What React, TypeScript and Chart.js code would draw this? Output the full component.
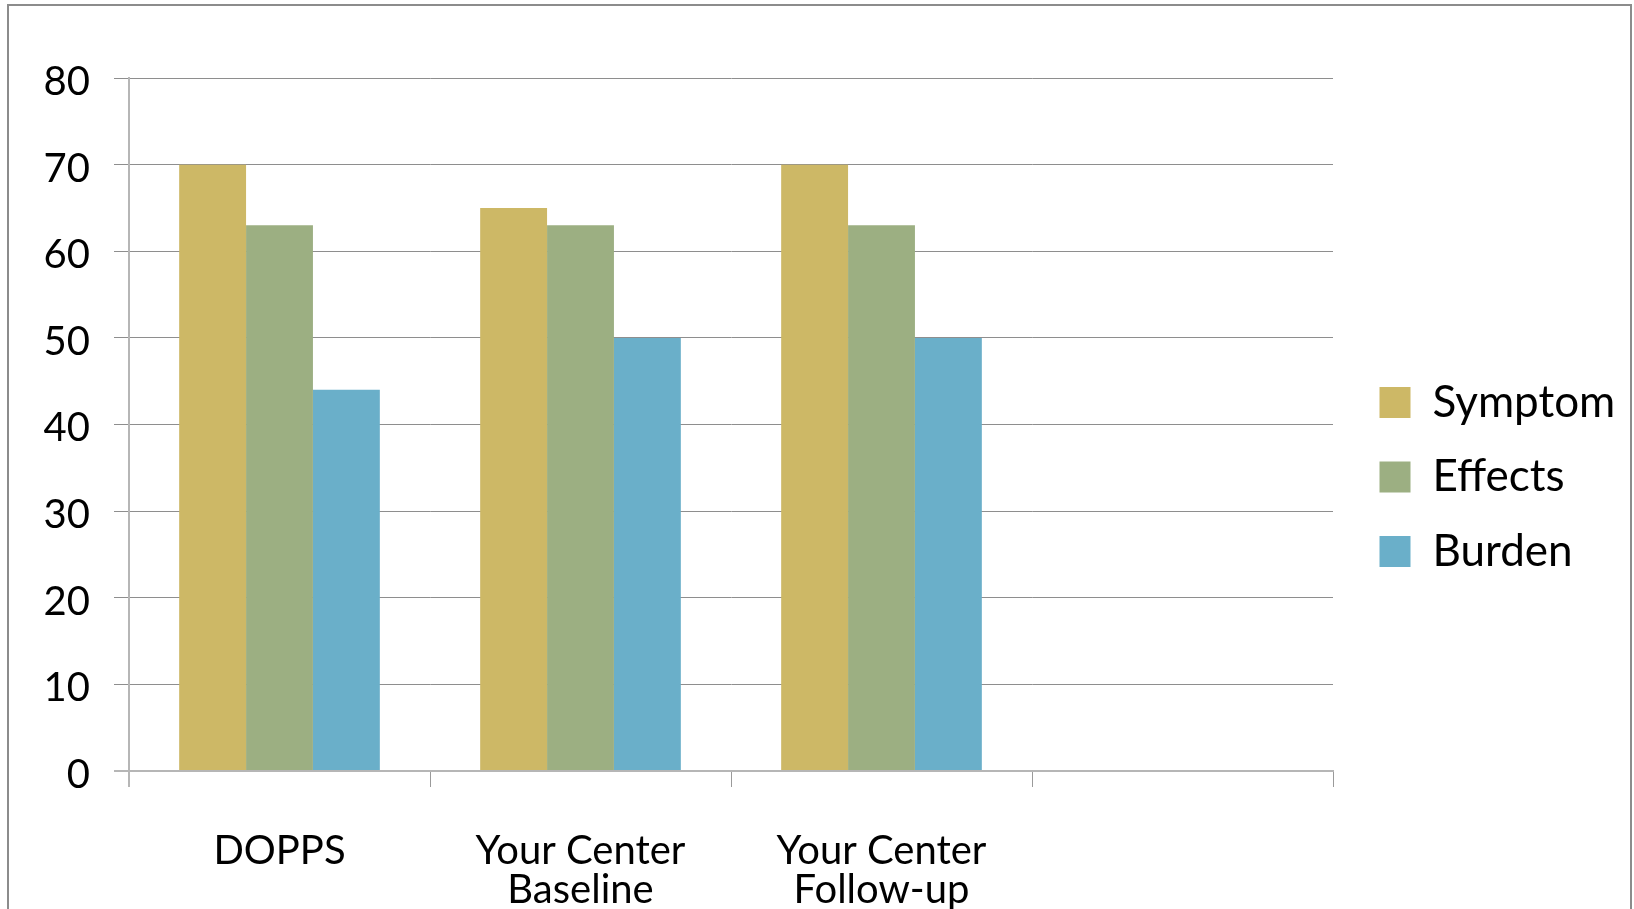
import React, { useEffect, useRef } from 'react';
import { Chart, registerables } from 'chart.js';

Chart.register(...registerables);

// ---- data ----
const categories: (string | string[])[] = [
  'DOPPS',
  ['Your Center', 'Baseline'],
  ['Your Center', 'Follow-up'],
  '',
];
const seriesNames = ['Symptom', 'Effects', 'Burden'];
const symptomValues = [70, 65, 70, null];
const effectsValues = [63, 63, 63, null];
const burdenValues = [44, 50, 50, null];
const seriesColors = ['#cdb866', '#9caf82', '#6aafc9'];
const yMin = 0;
const yMax = 80;
const yStep = 10;

const GRID = '#8e8e8e';
const AXIS = '#b6b6b6';
const FONT_FAMILY = 'Lato, "Open Sans", sans-serif';

const CANVAS_W = 1634;
const CANVAS_H = 909;
const PLOT_RIGHT = 1333;
const LEGEND_GAP = 16;

export default function App() {
  const ref = useRef<HTMLCanvasElement | null>(null);

  useEffect(() => {
    const canvas = ref.current;
    if (!canvas) return;
    const values = [symptomValues, effectsValues, burdenValues];
    const chart = new Chart(canvas, {
      type: 'bar',
      data: {
        labels: categories,
        datasets: seriesNames.map((name, i) => ({
          label: name,
          data: values[i],
          backgroundColor: seriesColors[i],
          borderWidth: 0,
          barPercentage: 1,
          categoryPercentage: 2 / 3,
        })),
      },
      options: {
        animation: false,
        responsive: false,
        devicePixelRatio: 1,
        layout: { padding: { top: 78, bottom: 0, left: 0, right: 0 } },
        plugins: {
          legend: {
            position: 'right',
            fullSize: false,
            maxWidth: 400,
            title: { display: true, text: '', padding: 0, font: { size: 105, lineHeight: 1 } },
            labels: {
              boxWidth: 31,
              boxHeight: 31,
              padding: 30.5,
              color: '#000',
              font: { family: FONT_FAMILY, size: 44, lineHeight: 1 },
            },
          },
          tooltip: { enabled: false },
        },
        scales: {
          x: {
            offset: true,
            grid: {
              display: true,
              offset: true,
              drawOnChartArea: false,
              drawTicks: true,
              tickLength: 16,
              color: (ctx: any) => (ctx.index === 0 ? AXIS : '#9a9a9a'),
              lineWidth: (ctx: any) => (ctx.index === 0 ? 2 : 1),
            },
            border: { display: true, color: AXIS, width: 2 },
            ticks: {
              color: '#000',
              font: { family: FONT_FAMILY, size: 40, lineHeight: 0.9625 },
              padding: 45,
              autoSkip: false,
              maxRotation: 0,
              minRotation: 0,
            },
            afterFit: (s: any) => {
              s.height = 138;
            },
          },
          y: {
            min: yMin,
            max: yMax,
            ticks: {
              stepSize: yStep,
              padding: 24,
              labelOffset: 4,
              color: '#000',
              font: { family: FONT_FAMILY, size: 40 },
            },
            grid: {
              tickLength: 15,
              color: (ctx: any) => (ctx.tick && ctx.tick.value === 0 ? AXIS : GRID),
              lineWidth: (ctx: any) => (ctx.tick && ctx.tick.value === 0 ? 2 : 1),
            },
            border: { display: true, color: AXIS, width: 2 },
            afterFit: (s: any) => {
              s.width = 129;
            },
          },
          gap: {
            type: 'linear',
            position: 'right',
            display: true,
            weight: 0,
            grid: { display: false, drawTicks: false },
            border: { display: false },
            ticks: { display: false },
            afterFit: (s: any) => {
              s.width = LEGEND_GAP;
            },
          },
          rest: {
            type: 'linear',
            position: 'right',
            display: true,
            weight: 2000,
            grid: { display: false, drawTicks: false },
            border: { display: false },
            ticks: { display: false },
            afterFit: (s: any) => {
              const lw = s.chart.legend ? s.chart.legend.width : 0;
              s.width = Math.max(0, CANVAS_W - PLOT_RIGHT - LEGEND_GAP - lw);
            },
          },
        },
      } as any,
    });
    return () => chart.destroy();
  }, []);

  return (
    <div
      style={{
        position: 'fixed',
        left: 0,
        top: 0,
        width: CANVAS_W,
        height: CANVAS_H,
        overflow: 'hidden',
        background: '#fff',
      }}
    >
      <div
        style={{
          position: 'absolute',
          left: 7,
          top: 4,
          width: 1625,
          height: 1000,
          border: '2px solid #8c8c8c',
          boxSizing: 'border-box',
        }}
      />
      <canvas
        ref={ref}
        width={CANVAS_W}
        height={CANVAS_H}
        style={{ position: 'absolute', left: 0, top: 0, width: CANVAS_W, height: CANVAS_H, display: 'block' }}
      />
    </div>
  );
}
